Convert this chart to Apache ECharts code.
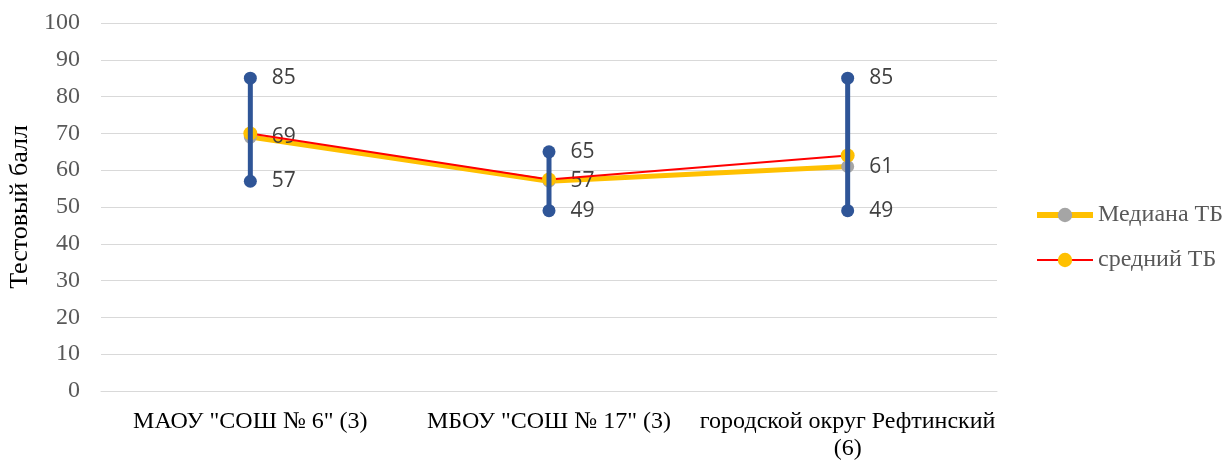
<!DOCTYPE html>
<html>
<head>
<meta charset="utf-8">
<script src="https://cdn.jsdelivr.net/npm/echarts@6/dist/echarts.min.js"></script>
<style>html,body{margin:0;padding:0;background:#fff}#c{width:1224px;height:460px}</style>
</head>
<body>
<div id="c"></div>
<script>
const categories = ['МАОУ "СОШ № 6" (3)', 'МБОУ "СОШ № 17" (3)', 'городской округ Рефтинский\n(6)'];
const medianTB = [69, 57, 61];
const meanTB = [70, 57.5, 64];
const minTB = [57, 49, 49];
const maxTB = [85, 65, 85];
const yTicks = [0, 100, 10];

const serif = '"Liberation Serif", "Times New Roman", serif';
const chart = echarts.init(document.getElementById('c'));
const dataLabel = {show: true, position: 'right', distance: 15, color: '#404040', fontSize: 21, fontFamily: '"Open Sans", "Noto Sans", sans-serif', padding: [3, 0, 0, 0]};
chart.setOption({
  animation: false,
  grid: {left: 101, right: 227, top: 23, bottom: 69, outerBoundsMode: 'none', containLabel: false},
  legend: {
    orient: 'vertical', left: 1034, top: 203, itemGap: 21, padding: 0,
    itemWidth: 56, itemHeight: 18,
    textStyle: {fontFamily: serif, fontSize: 24, color: '#595959'},
    data: [
      {name: 'Медиана ТБ', lineStyle: {color: '#FFC000', width: 6}, itemStyle: {color: '#A5A5A5'}},
      {name: 'средний ТБ', lineStyle: {color: '#FF0000', width: 2}, itemStyle: {color: '#FFC000'}}
    ]
  },
  xAxis: {
    type: 'category', data: categories,
    axisLine: {lineStyle: {color: '#D9D9D9', width: 1}},
    axisTick: {show: false},
    axisLabel: {color: '#000', fontSize: 24, fontFamily: serif, margin: 17, lineHeight: 27, interval: 0}
  },
  yAxis: {
    type: 'value', min: yTicks[0], max: yTicks[1], interval: yTicks[2],
    name: 'Тестовый балл', nameLocation: 'middle', nameRotate: 90, nameGap: 58,
    nameTextStyle: {color: '#000', fontSize: 26, fontFamily: serif},
    axisLine: {show: false}, axisTick: {show: false},
    axisLabel: {color: '#595959', fontSize: 24, fontFamily: serif, margin: 21},
    splitLine: {lineStyle: {color: '#D9D9D9', width: 1}}
  },
  series: [
    {
      name: 'Медиана ТБ', type: 'line', data: medianTB,
      lineStyle: {color: '#FFC000', width: 5}, itemStyle: {color: '#A5A5A5', opacity: 1},
      symbol: 'circle', symbolSize: 13,
      label: dataLabel, z: 2
    },
    {
      name: 'средний ТБ', type: 'line', data: meanTB,
      lineStyle: {color: '#FF0000', width: 2}, itemStyle: {color: '#FFC000', opacity: 1},
      symbol: 'circle', symbolSize: 14, z: 3
    },
    {
      name: 'range', type: 'custom', z: 4,
      data: categories.map((c, i) => [i, minTB[i], maxTB[i]]),
      renderItem: function (params, api) {
        const lo = api.coord([api.value(0), api.value(1)]);
        const hi = api.coord([api.value(0), api.value(2)]);
        return {type: 'line', shape: {x1: lo[0], y1: lo[1], x2: hi[0], y2: hi[1]}, style: {stroke: '#2F5597', lineWidth: 5}};
      }
    },
    {
      name: 'min', type: 'scatter', data: minTB, symbol: 'circle', symbolSize: 13,
      itemStyle: {color: '#2F5597', opacity: 1}, label: dataLabel, z: 5
    },
    {
      name: 'max', type: 'scatter', data: maxTB, symbol: 'circle', symbolSize: 13,
      itemStyle: {color: '#2F5597', opacity: 1}, label: dataLabel, z: 5
    }
  ]
});
</script>
</body>
</html>
